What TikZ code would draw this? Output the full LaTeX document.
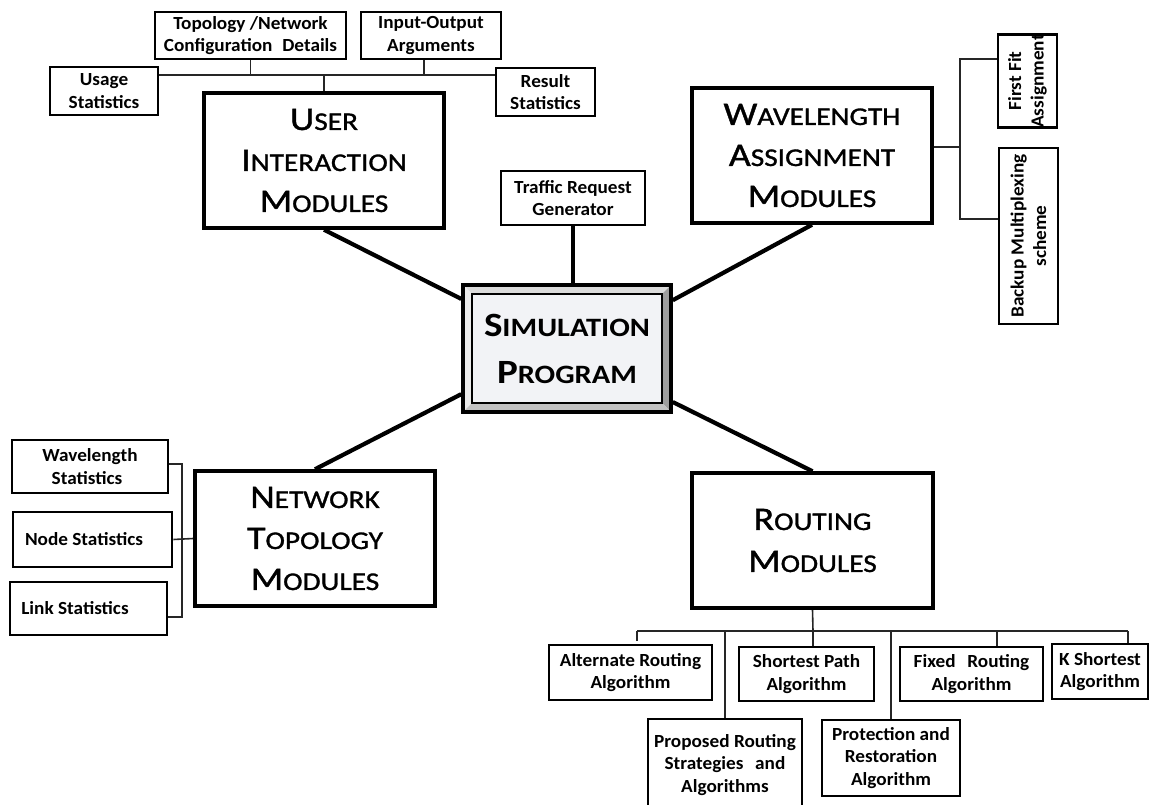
\documentclass[tikz,border=0pt]{standalone}
\usepackage{fontspec}
\setmainfont{Carlito}
\newfontfamily\labfont[FakeStretch=1.15,FakeBold=1.2]{Carlito}
\newfontfamily\simlabfont[FakeStretch=1.15]{Carlito}
\newfontfamily\boxfont[FakeStretch=1.04]{Carlito}
\usetikzlibrary{calc}
\pgfdeclarelayer{background}
\pgfsetlayers{background,main}

% caps + small caps labels: big first letter, smaller capitals after it
\newcommand\capsc[2]{{\fontsize{33}{41}\selectfont #1}{\fontsize{25.5}{41}\selectfont #2}}
\newcommand\capscb[2]{{\fontsize{34}{47}\selectfont #1}{\fontsize{26.5}{47}\selectfont #2}}

\definecolor{simfill}{HTML}{F2F3F6}

\begin{document}
\begin{tikzpicture}[x=1pt,y=-1pt,
  smallbox/.style={draw, line width=2.6pt, fill=white, inner sep=0pt, align=center,
                   font=\boxfont\fontsize{18.5}{22.5}\selectfont\bfseries},
  mainbox/.style={draw, line width=3.5pt, fill=white, inner sep=0pt, align=center,
                  font=\labfont\fontsize{25.5}{41}\selectfont},
  spoke/.style={line width=4.2pt},
  branch/.style={line width=1.6pt, draw=black!85},
  bevelbox/.style={draw, line width=3.5pt, fill=simfill, inner sep=0pt, align=center,
    font=\simlabfont\fontsize{26.5}{47}\selectfont\bfseries,
    path picture={
      \coordinate (ppnw) at (path picture bounding box.north west);
      \coordinate (ppne) at (path picture bounding box.north east);
      \coordinate (ppsw) at (path picture bounding box.south west);
      \coordinate (ppse) at (path picture bounding box.south east);
      \fill[black!14] (ppnw) -- (ppne) -- ($(ppne)+(-9,9)$) -- ($(ppnw)+(9,9)$) -- cycle;
      \fill[black!8] (ppnw) -- ($(ppnw)+(9,9)$) -- ($(ppsw)+(9,-9)$) -- (ppsw) -- cycle;
      \fill[black!38] (ppne) -- ($(ppne)+(-9,9)$) -- ($(ppse)+(-9,-9)$) -- (ppse) -- cycle;
      \fill[black!24] (ppsw) -- ($(ppsw)+(9,-9)$) -- ($(ppse)+(-9,-9)$) -- (ppse) -- cycle;
      \draw[line width=1.6pt, fill=simfill] ($(ppnw)+(9,9)$) rectangle ($(ppse)+(-9,-9)$);
      \draw[line width=3.5pt] (ppnw) rectangle (ppse);
    }},
]
\useasboundingbox (0,0) rectangle (1150,805);

% ---- user interaction group
\node[smallbox, minimum width=191pt, minimum height=47pt] (topo) at (250.5,35.5)
  {Topology /Network\\Configuration\hspace{0.3em} Details};
\node[smallbox, minimum width=140pt, minimum height=47pt] (io) at (431,35.5)
  {Input-Output\\Arguments};
\node[smallbox, minimum width=108pt, minimum height=48pt] (usage) at (104,91)
  {Usage\\Statistics};
\node[smallbox, minimum width=99pt, minimum height=48pt] (result) at (545.5,92)
  {Result\\Statistics};
\node[mainbox, minimum width=240pt, minimum height=135pt] (user) at (324,160.5)
  {\capsc{U}{SER}\\\capsc{I}{NTERACTION}\\\capsc{M}{ODULES}};

% ---- traffic generator
\node[smallbox, minimum width=144pt, minimum height=54pt] (traffic) at (573,198)
  {Traffic Request\\Generator};

% ---- wavelength assignment group
\node[mainbox, minimum width=240pt, minimum height=135pt] (wam) at (812,155.5)
  {\capsc{W}{AVELENGTH}\\\capsc{A}{SSIGNMENT}\\\capsc{M}{ODULES}};
\node[smallbox, rotate=90, minimum width=86pt, minimum height=59pt] (firstfit) at (1027.5,81)
  {First Fit\\Assignment};
\node[smallbox, rotate=90, minimum width=176pt, minimum height=59pt] (backup) at (1028.5,236)
  {Backup Multiplexing\\scheme};

% ---- central program
\node[bevelbox, minimum width=208pt, minimum height=127pt] (sim) at (567,348.5)
  {\capscb{S}{IMULATION}\\\capscb{P}{ROGRAM}};

% ---- network topology group
\node[smallbox, minimum width=156pt, minimum height=53pt] (wstat) at (90,466.5)
  {Wavelength\\Statistics\hspace*{6pt}};
\node[smallbox, minimum width=159pt, minimum height=55pt] (nodest) at (92.5,539.5)
  {Node Statistics\hspace*{17pt}};
\node[smallbox, minimum width=157pt, minimum height=53pt] (linkst) at (88.5,608.5)
  {Link Statistics\hspace*{27pt}};
\node[mainbox, minimum width=240pt, minimum height=135pt] (nt) at (315,538.5)
  {\capsc{N}{ETWORK}\\\capsc{T}{OPOLOGY}\\\capsc{M}{ODULES}};

% ---- routing group
\node[mainbox, minimum width=241pt, minimum height=135pt] (routing) at (812.5,540.5)
  {\capsc{R}{OUTING}\\[1pt]\capsc{M}{ODULES}};
\node[smallbox, minimum width=163pt, minimum height=55pt] (alt) at (630.5,672.5)
  {Alternate Routing\\Algorithm};
\node[smallbox, minimum width=135pt, minimum height=54pt] (shortest) at (806.5,674)
  {Shortest Path\\Algorithm};
\node[smallbox, minimum width=143pt, minimum height=54pt] (fixed) at (971.5,674)
  {Fixed\hspace{0.4em} Routing\\Algorithm};
\node[smallbox, minimum width=96pt, minimum height=55pt] (kshort) at (1100,671.5)
  {K Shortest\\Algorithm};
\node[smallbox, minimum width=154pt, minimum height=92pt] (proposed) at (725,765)
  {Proposed Routing\\Strategies\hspace{0.4em} and\\Algorithms};
\node[smallbox, minimum width=138pt, minimum height=76pt] (protection) at (891,758)
  {Protection and\\Restoration\\Algorithm};

% ---- connectors
\begin{pgfonlayer}{background}
  % spokes to the central program
  \draw[spoke] (user.south) -- ($(sim.north west)!0.12!(sim.south west)$);
  \draw[spoke] (wam.south) -- ($(sim.north east)!0.13!(sim.south east)$);
  \draw[spoke] (nt.north) -- ($(sim.north west)!0.85!(sim.south west)$);
  \draw[spoke] (routing.north) -- ($(sim.north east)!0.91!(sim.south east)$);
  \draw[spoke] (traffic.south) -- (traffic.south |- sim.north);

  % user interaction bus
  \coordinate (ubus) at (326,75);
  \draw[branch] (usage.east |- ubus) -- (result.west |- ubus);
  \draw[branch] (topo.south) -- (topo.south |- ubus);
  \draw[branch] ([xshift=-7pt]io.south) -- ([xshift=-7pt]io.south |- ubus);
  \draw[branch] (user.north) -- (user.north |- ubus);

  % wavelength assignment bracket
  \coordinate (wbr) at (960,147);
  \coordinate (wtop) at (960,59);
  \coordinate (wbot) at (960,219);
  \draw[branch] (wam.east |- wbr) -- (wbr);
  \draw[branch] (firstfit.north |- wtop) -- (wtop) -- (wbot) -- (backup.north |- wbot);

  % network topology bracket
  \coordinate (nbtop) at (182,464);
  \coordinate (nbbot) at (182,617);
  \draw[branch] (wstat.east |- nbtop) -- (nbtop) -- (nbbot) -- (linkst.east |- nbbot);
  \draw[branch] (nodest.east) -- (nt.west);

  % routing bus
  \coordinate (rbus) at (813,631);
  \coordinate (rbl) at (637,631);
  \coordinate (rbr) at (1128,631);
  \coordinate (rfx) at (997,631);
  \draw[branch] (routing.south) -- (rbus);
  \draw[branch] (rbl) -- (rbr);
  \draw[branch] (rbl) -- ++(0,10);
  \draw[branch] (proposed.north |- rbus) -- (proposed.north);
  \draw[branch] (rbus) -- (rbus |- shortest.north);
  \draw[branch] (protection.north |- rbus) -- (protection.north);
  \draw[branch] (rfx) -- (rfx |- fixed.north);
  \draw[branch] (rbr) -- (rbr |- kshort.north);
\end{pgfonlayer}
\end{tikzpicture}
\end{document}
